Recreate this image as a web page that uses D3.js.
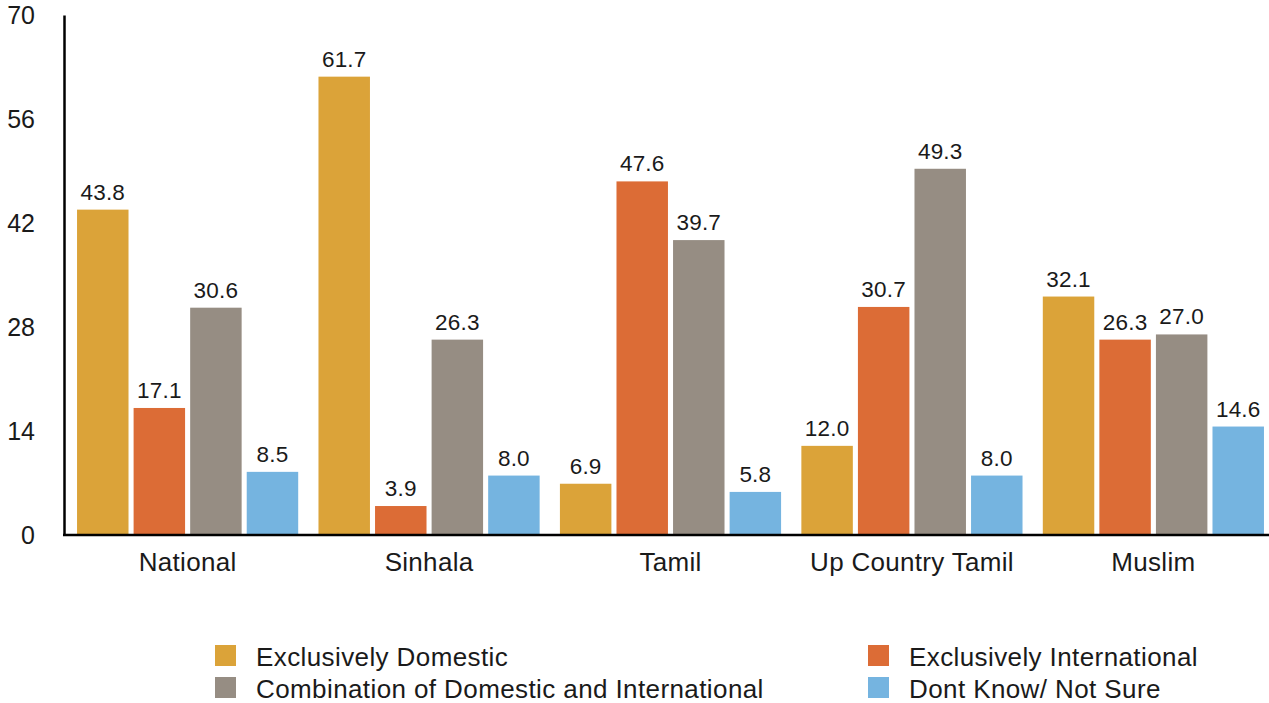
<!DOCTYPE html>
<html><head><meta charset="utf-8">
<script src="https://cdn.jsdelivr.net/npm/d3@7"></script>
<style>
html,body{margin:0;padding:0;background:#fff;}
svg text{font-family:"Liberation Sans",Arial,Helvetica,sans-serif;fill:#1a1a1a;}
</style></head>
<body><svg id="chart" width="1269" height="703"></svg>
<script>
const categories = ["National","Sinhala","Tamil","Up Country Tamil","Muslim"];
const seriesNames = ["Exclusively Domestic","Exclusively International","Combination of Domestic and International","Dont Know/ Not Sure"];
const exclusivelyDomestic = [43.8, 61.7, 6.9, 12.0, 32.1];
const exclusivelyInternational = [17.1, 3.9, 47.6, 30.7, 26.3];
const combination = [30.6, 26.3, 39.7, 49.3, 27.0];
const dontKnow = [8.5, 8.0, 5.8, 8.0, 14.6];
const yTicks = [0, 14, 28, 42, 56, 70];
const colors = ["#DBA339","#DC6C36","#968D83","#75B4E0"];

const seriesValues = [exclusivelyDomestic, exclusivelyInternational, combination, dontKnow];
const svg = d3.select("#chart");

const y = d3.scaleLinear().domain([0,70]).range([535,15]);
const x0 = d3.scaleBand().domain(categories).range([66.9,1274.1]).paddingInner(0.084).paddingOuter(0.042);
const x1 = d3.scaleBand().domain(d3.range(4)).range([0,x0.bandwidth()]).paddingInner(0.09);

const groups = svg.append("g").selectAll("g").data(categories).join("g")
  .attr("transform", d => `translate(${x0(d)},0)`);

groups.each(function(cat, ci){
  const g = d3.select(this);
  const vals = seriesValues.map(s => s[ci]);
  g.selectAll("rect").data(vals).join("rect")
    .attr("x", (d,i) => x1(i))
    .attr("width", x1.bandwidth())
    .attr("y", d => y(d))
    .attr("height", d => y(0) - y(d))
    .attr("fill", (d,i) => colors[i]);
  g.selectAll("text.val").data(vals).join("text").attr("class","val")
    .attr("x", (d,i) => x1(i) + x1.bandwidth()/2)
    .attr("y", d => y(d) - 10)
    .attr("text-anchor","middle")
    .style("font-size","22.5px")
    .style("letter-spacing","0.2px")
    .text(d => d.toFixed(1));
});

// y axis
const yAxis = svg.append("g").attr("transform","translate(64,0)")
  .call(d3.axisLeft(y).tickValues(yTicks).tickSize(0).tickPadding(29).tickFormat(d3.format("d")));
yAxis.select(".domain").attr("stroke","#000").attr("stroke-width",2.5);
yAxis.selectAll("text").style("font-size","25px").attr("fill","#1a1a1a").style("font-family","'Liberation Sans',Arial,sans-serif");

// x axis
const xAxis = svg.append("g").attr("transform","translate(0,535)")
  .call(d3.axisBottom(x0).tickSize(0).tickPadding(18));
xAxis.select(".domain").attr("d","M63,0H1269").attr("stroke","#000").attr("stroke-width",2.5);
xAxis.selectAll("text").style("font-size","26px").style("letter-spacing","0.3px").attr("fill","#1a1a1a").style("font-family","'Liberation Sans',Arial,sans-serif");

// legend
const legendPos = [[215,645],[868,645],[215,677],[868,677]];
const leg = svg.append("g").selectAll("g").data(seriesNames).join("g")
  .attr("transform",(d,i)=>`translate(${legendPos[i][0]},${legendPos[i][1]})`);
leg.append("rect").attr("width",21).attr("height",21).attr("fill",(d,i)=>colors[i]);
leg.append("text").attr("x",41).attr("y",20.5).style("font-size","26px").style("letter-spacing","0.4px").text(d=>d);
</script></body></html>
